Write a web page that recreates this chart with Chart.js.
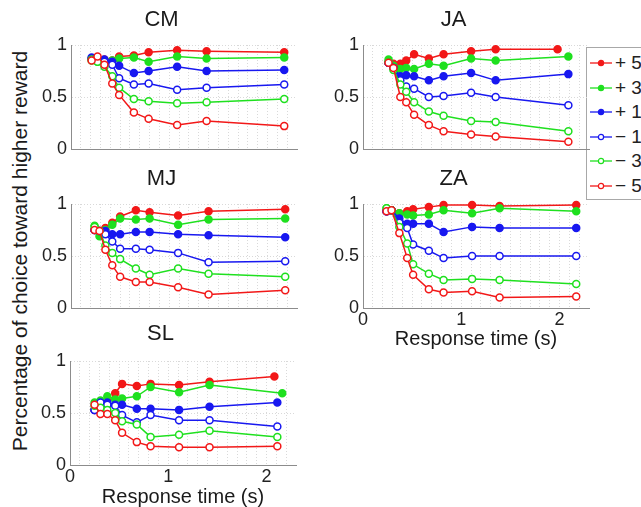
<!DOCTYPE html>
<html>
<head>
<meta charset="utf-8">
<script src="https://cdn.jsdelivr.net/npm/chart.js@4.4.1/dist/chart.umd.min.js"></script>
<style>
  html, body { margin: 0; padding: 0; background: #fff; }
  body { width: 641px; height: 507px; position: relative; overflow: hidden;
         font-family: "Liberation Sans", Arial, sans-serif; }
  canvas.panel { position: absolute; }
  #ylabel { position: absolute; left: 19px; top: 251px; white-space: nowrap;
            font-size: 21px; color: #1a1a1a; line-height: 1;
            transform: translate(-50%, -50%) rotate(-90deg); }
  #legend { position: absolute; left: 586px; top: 47px; width: 80px; height: 151px;
            border: 1px solid #a8a8a8; background: #fff; }
  #legend .item { position: absolute; left: 2px; height: 20px; display: flex; align-items: center;
                  font-size: 19px; color: #222; white-space: nowrap; }
  #legend svg { margin-right: 2px; }
</style>
</head>
<body>
<div id="ylabel">Percentage of choice toward higher reward</div>
<div id="legend"></div>
<script>
  // reward difference of each series (legend order)
  const seriesLabels = ["+ 5", "+ 3", "+ 1", "\u2212 1", "\u2212 3", "\u2212 5"];
  const seriesColors = ["#f21818", "#1fe01f", "#1818f0", "#1818f0", "#1fe01f", "#f21818"];
  const seriesFilled = [true, true, true, false, false, false];

  const panelNames = ["CM", "JA", "MJ", "ZA", "SL"];
  const yTicks = [0, 0.5, 1];
  const xTickLabels = [0, 1, 2];
  const xMinorGrid = [0.1, 0.2, 0.3, 0.4, 0.5, 0.6, 0.7, 0.8, 0.9, 1.1, 1.2, 1.3, 1.4,
                      1.5, 1.6, 1.7, 1.8, 1.9, 2.1, 2.2];

  // mean response time of each bin (s)
  const xCM = [0.21, 0.27, 0.34, 0.42, 0.49, 0.64, 0.79, 1.08, 1.38, 2.17];
  const xJA = [0.26, 0.31, 0.38, 0.44, 0.52, 0.67, 0.82, 1.10, 1.35, 2.09];
  const xJAp5 = [0.26, 0.31, 0.38, 0.44, 0.52, 0.67, 0.82, 1.10, 1.35, 1.98];
  const xMJ = [0.24, 0.29, 0.35, 0.42, 0.50, 0.66, 0.80, 1.09, 1.40, 2.18];
  const xZA = [0.24, 0.29, 0.37, 0.45, 0.51, 0.67, 0.82, 1.11, 1.39, 2.17];
  const xSL = [0.25, 0.31, 0.38, 0.46, 0.53, 0.68, 0.82, 1.11, 1.42, 2.11];
  const xSLp5 = [0.25, 0.31, 0.38, 0.46, 0.53, 0.68, 0.82, 1.11, 1.42, 2.08];
  const xSLp3 = [0.25, 0.31, 0.38, 0.46, 0.53, 0.68, 0.82, 1.11, 1.42, 2.16];

  // fraction of choices toward the higher reward
  const cmP5 = [0.87, 0.87, 0.86, 0.85, 0.89, 0.90, 0.93, 0.95, 0.94, 0.93];
  const cmP3 = [0.85, 0.84, 0.83, 0.85, 0.87, 0.88, 0.84, 0.89, 0.87, 0.88];
  const cmP1 = [0.88, 0.87, 0.86, 0.84, 0.80, 0.73, 0.75, 0.79, 0.75, 0.76];
  const cmM1 = [0.87, 0.86, 0.84, 0.81, 0.68, 0.62, 0.63, 0.57, 0.59, 0.62];
  const cmM3 = [0.86, 0.84, 0.79, 0.70, 0.59, 0.48, 0.46, 0.44, 0.45, 0.48];
  const cmM5 = [0.85, 0.89, 0.81, 0.63, 0.52, 0.35, 0.29, 0.23, 0.27, 0.22];

  const jaP5 = [0.83, 0.82, 0.82, 0.85, 0.91, 0.87, 0.91, 0.94, 0.96, 0.96];
  const jaP3 = [0.86, 0.80, 0.77, 0.78, 0.77, 0.82, 0.80, 0.87, 0.85, 0.89];
  const jaP1 = [0.83, 0.78, 0.70, 0.71, 0.70, 0.66, 0.70, 0.73, 0.66, 0.72];
  const jaM1 = [0.83, 0.78, 0.66, 0.60, 0.58, 0.50, 0.51, 0.54, 0.50, 0.42];
  const jaM3 = [0.84, 0.76, 0.62, 0.55, 0.45, 0.36, 0.32, 0.27, 0.26, 0.17];
  const jaM5 = [0.83, 0.78, 0.50, 0.45, 0.33, 0.23, 0.17, 0.14, 0.12, 0.07];

  const mjP5 = [0.75, 0.74, 0.77, 0.82, 0.88, 0.94, 0.92, 0.89, 0.93, 0.95];
  const mjP3 = [0.79, 0.69, 0.75, 0.80, 0.86, 0.85, 0.86, 0.80, 0.85, 0.86];
  const mjP1 = [0.75, 0.74, 0.74, 0.71, 0.71, 0.73, 0.73, 0.71, 0.70, 0.68];
  const mjM1 = [0.75, 0.74, 0.71, 0.64, 0.57, 0.57, 0.56, 0.53, 0.44, 0.45];
  const mjM3 = [0.78, 0.74, 0.60, 0.53, 0.47, 0.38, 0.32, 0.38, 0.33, 0.30];
  const mjM5 = [0.75, 0.74, 0.56, 0.41, 0.30, 0.25, 0.25, 0.20, 0.13, 0.17];

  const zaP5 = [0.93, 0.94, 0.91, 0.93, 0.95, 0.97, 0.99, 0.99, 0.98, 0.99];
  const zaP3 = [0.96, 0.94, 0.91, 0.90, 0.89, 0.90, 0.94, 0.91, 0.96, 0.93];
  const zaP1 = [0.93, 0.94, 0.86, 0.81, 0.81, 0.81, 0.73, 0.78, 0.77, 0.77];
  const zaM1 = [0.93, 0.94, 0.82, 0.77, 0.61, 0.55, 0.48, 0.50, 0.50, 0.50];
  const zaM3 = [0.96, 0.94, 0.78, 0.62, 0.42, 0.33, 0.27, 0.28, 0.27, 0.23];
  const zaM5 = [0.93, 0.94, 0.72, 0.48, 0.32, 0.18, 0.15, 0.16, 0.10, 0.11];

  const slP5 = [0.53, 0.55, 0.58, 0.69, 0.78, 0.76, 0.78, 0.77, 0.80, 0.85];
  const slP3 = [0.60, 0.62, 0.66, 0.63, 0.64, 0.66, 0.75, 0.70, 0.77, 0.69];
  const slP1 = [0.53, 0.55, 0.60, 0.58, 0.58, 0.54, 0.54, 0.53, 0.56, 0.60];
  const slM1 = [0.53, 0.60, 0.58, 0.57, 0.48, 0.41, 0.48, 0.43, 0.43, 0.37];
  const slM3 = [0.57, 0.55, 0.53, 0.50, 0.42, 0.39, 0.27, 0.29, 0.33, 0.27];
  const slM5 = [0.58, 0.49, 0.49, 0.43, 0.31, 0.22, 0.18, 0.17, 0.17, 0.18];

  const FONT = '"Liberation Sans", Arial, sans-serif';

  // pixel boxes of the plot areas on the page
  const panels = [
    { x: [xCM, xCM, xCM, xCM, xCM, xCM], y: [cmP5, cmP3, cmP1, cmM1, cmM3, cmM5],
      left: 71, top: 45, w: 226, h: 104, titleY: 20, xH: 14 },
    { x: [xJAp5, xJA, xJA, xJA, xJA, xJA], y: [jaP5, jaP3, jaP1, jaM1, jaM3, jaM5],
      left: 363, top: 45, w: 226, h: 104, titleY: 20, xH: 14 },
    { x: [xMJ, xMJ, xMJ, xMJ, xMJ, xMJ], y: [mjP5, mjP3, mjP1, mjM1, mjM3, mjM5],
      left: 71, top: 204, w: 226, h: 104, titleY: 179, xH: 14 },
    { x: [xZA, xZA, xZA, xZA, xZA, xZA], y: [zaP5, zaP3, zaP1, zaM1, zaM3, zaM5],
      left: 363, top: 204, w: 226, h: 104, titleY: 179, xH: 41, xLabels: true },
    { x: [xSLp5, xSLp3, xSL, xSL, xSL, xSL], y: [slP5, slP3, slP1, slM1, slM3, slM5],
      left: 70, top: 361, w: 226, h: 104, titleY: 334, xH: 42, xLabels: true }
  ];

  function makePanel(p, name) {
    const padR = 8, yW = 45;
    const cTop = p.titleY - 15;
    const headH = p.top - cTop;
    const cw = yW + p.w + padR, ch = headH + p.h + p.xH;
    const cv = document.createElement('canvas');
    cv.className = 'panel';
    cv.width = cw; cv.height = ch;
    cv.style.width = cw + 'px'; cv.style.height = ch + 'px';
    cv.style.left = (p.left - yW) + 'px';
    cv.style.top = cTop + 'px';
    document.body.appendChild(cv);

    const datasets = seriesLabels.map((lab, i) => ({
      label: lab,
      data: p.y[i].map((v, k) => ({ x: p.x[i][k], y: v })),
      borderColor: seriesColors[i],
      backgroundColor: seriesColors[i],
      pointBackgroundColor: seriesFilled[i] ? seriesColors[i] : '#fff',
      pointBorderColor: seriesColors[i],
      borderWidth: 1.5,
      pointRadius: 3.5,
      pointBorderWidth: 1.5,
      tension: 0,
      clip: false,
      order: 5 - i
    }));

    new Chart(cv, {
      type: 'line',
      data: { datasets },
      options: {
        responsive: false,
        animation: false,
        events: [],
        layout: { padding: { top: 4, left: 0, right: padR, bottom: 0 } },
        plugins: {
          legend: { display: false },
          tooltip: { enabled: false },
          title: {
            display: true, text: name, color: '#1a1a1a',
            font: { family: FONT, size: 22, weight: 'normal', lineHeight: 1 },
            padding: { top: 0, bottom: p.top - p.titleY - 11 }
          }
        },
        scales: {
          x: {
            type: 'linear', min: 0, max: 2.3,
            afterBuildTicks: s => {
              s.ticks = xTickLabels.concat(xMinorGrid).sort((a, b) => a - b).map(v => ({ value: v }));
            },
            afterFit: s => { s.height = p.xH; },
            ticks: {
              display: !!p.xLabels, autoSkip: false, maxRotation: 0, padding: 3,
              color: '#222', font: { family: FONT, size: 18, lineHeight: 1 },
              callback: v => xTickLabels.includes(v) ? String(v) : ''
            },
            grid: { color: '#d9d9d9', lineWidth: 1, drawTicks: false },
            border: { color: '#8c8c8c', width: 1, dash: [1, 2] },
            title: {
              display: !!p.xLabels, text: 'Response time (s)', color: '#1a1a1a',
              font: { family: FONT, size: 20, lineHeight: 1 }, padding: { top: 0, bottom: 0 }
            }
          },
          y: {
            type: 'linear', min: 0, max: 1,
            afterBuildTicks: s => { s.ticks = yTicks.map(v => ({ value: v })); },
            afterFit: s => { s.width = yW; },
            ticks: {
              padding: 4, color: '#222', font: { family: FONT, size: 18, lineHeight: 1 },
              callback: v => String(v)
            },
            grid: { color: '#d9d9d9', lineWidth: 1, drawTicks: false },
            border: { color: '#8c8c8c', width: 1, dash: [1, 2] }
          }
        }
      }
    });
  }

  panels.forEach((p, i) => makePanel(p, panelNames[i]));

  // legend box (right of JA)
  const legend = document.getElementById('legend');
  seriesLabels.forEach((lab, i) => {
    const item = document.createElement('div');
    item.className = 'item';
    item.style.top = (5 + i * 24.6) + 'px';
    const fill = seriesFilled[i] ? seriesColors[i] : '#fff';
    item.innerHTML =
      '<svg width="24" height="10"><line x1="1" y1="5" x2="23" y2="5" stroke="' + seriesColors[i] +
      '" stroke-width="1.3"/><circle cx="12" cy="5" r="2.6" fill="' + fill + '" stroke="' +
      seriesColors[i] + '" stroke-width="1.2"/></svg><span>' + lab + '</span>';
    legend.appendChild(item);
  });
</script>
</body>
</html>
